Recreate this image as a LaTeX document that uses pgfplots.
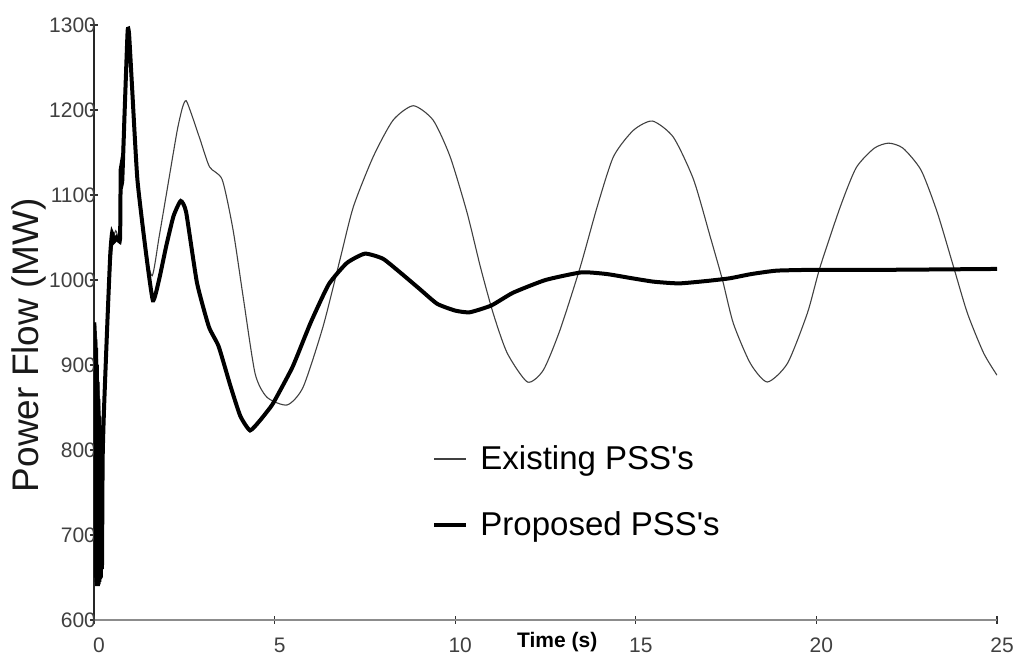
\documentclass[border=0pt]{standalone}
\usepackage{fontspec}
\setmainfont{Liberation Sans}
\usepackage{pgfplots}
\pgfplotsset{compat=1.18}
\begin{document}
\begin{tikzpicture}
\path[use as bounding box] (-47pt,-18pt) rectangle (463.5pt,310pt);
\begin{axis}[
  at={(0,0)}, anchor=south west,
  scale only axis, width=451.5pt, height=297.5pt,
  xmin=0, xmax=25, ymin=600, ymax=1300,
  axis x line=bottom, axis y line=left,
  axis line style={-},
  x axis line style={black!45, line width=0.6pt},
  y axis line style={black!85, line width=0.6pt},
  xtick={0,5,...,25}, ytick={600,700,...,1300},
  tick align=center, major tick length=4pt,
  tick style={black!80, line width=0.6pt},
  /pgf/number format/assume math mode=true,
  /pgf/number format/1000 sep={},
  ticklabel style={font=\fontsize{10.5}{12}\selectfont, text=black!75},
  yticklabel style={anchor=east, xshift=6.5pt},
  xticklabel style={anchor=center, yshift=-10.5pt, xshift=2.5pt},
  xlabel={Time (s)},
  xlabel style={at={(axis description cs:0.513,0)}, anchor=center, yshift=-11pt,
    font=\fontsize{10.5}{12}\selectfont\bfseries},
  ylabel={Power Flow (MW)},
  ylabel style={at={(axis description cs:-0.0725,0.462)}, anchor=center,
    font=\fontsize{18.5}{22}\selectfont, text=black!90},
  legend style={draw=none, fill=none, at={(axis cs:9.36,750.6)}, anchor=west,
    inner sep=0pt, row sep=15.5pt, column sep=4pt,
    font=\fontsize{16.5}{19}\selectfont},
  legend cell align=left,
  legend image code/.code={\draw[#1] (0pt,0pt) -- (16pt,0pt);},
]
\addplot[black!75, line width=0.55pt, smooth, tension=0.4] coordinates {
(0.05,950) (0.2,820) (0.28,851) (0.37,950) (0.5,1035) (0.6,1058) (0.75,1044)
(0.76,1130) (0.93,1290) (1.05,1230) (1.2,1120) (1.4,1040) (1.61,1005)
(1.8,1050) (2.0,1100) (2.3,1175) (2.45,1203) (2.55,1211) (2.7,1195)
(2.94,1165) (3.2,1133) (3.55,1118) (3.85,1059) (4.13,980) (4.46,890)
(4.79,862) (5.35,853) (5.79,874) (6.34,945) (6.81,1024) (7.18,1086)
(7.73,1145) (8.28,1188) (8.84,1205) (9.39,1188) (9.86,1145) (10.33,1079)
(10.7,1015) (11.05,961) (11.44,914) (12.0,880) (12.44,894) (12.9,941)
(13.46,1015) (13.93,1086) (14.38,1145) (14.93,1176) (15.46,1187) (16.04,1168)
(16.6,1118) (17.06,1051) (17.4,1000) (17.7,949) (18.17,902) (18.64,880)
(19.2,902) (19.75,961) (20.1,1015) (20.66,1086) (21.1,1132) (21.6,1155)
(22.0,1161) (22.4,1155) (22.9,1129) (23.35,1079) (23.8,1015) (24.18,961)
(24.63,914) (25,888)
};
\addlegendentry{Existing PSS\textquotesingle s}
\addplot[black, line width=2pt, smooth, tension=0.3] coordinates {
(0.00,950) (0.01,700) (0.02,940) (0.03,660) (0.04,930) (0.05,650)
(0.06,920) (0.07,645) (0.08,900) (0.09,640) (0.10,880) (0.11,640)
(0.12,860) (0.13,642) (0.14,840) (0.15,645) (0.16,820) (0.17,648)
(0.18,800) (0.19,650) (0.20,780) (0.22,660) (0.24,790) (0.28,851)
(0.37,950) (0.45,1030) (0.5,1055) (0.55,1045) (0.62,1050) (0.72,1048)
(0.74,1130) (0.78,1115) (0.85,1200) (0.93,1292) (0.97,1290) (1.05,1230)
(1.2,1119) (1.43,1035) (1.63,976) (1.8,1000) (2.0,1040) (2.2,1075)
(2.4,1093) (2.55,1080) (2.85,997) (3.18,945) (3.45,922) (3.78,875)
(4.05,840) (4.32,823) (4.6,835) (4.88,850) (5.0,858) (5.5,898) (6.0,950)
(6.5,995) (7.0,1020) (7.5,1031) (8.0,1025) (8.5,1008) (9.0,990) (9.5,972)
(10.0,964) (10.4,962) (11.0,970) (11.6,985) (12.5,1000) (13.5,1009)
(14.2,1007) (14.9,1002) (15.5,998) (16.2,996) (17.0,999) (17.6,1002)
(18.2,1007) (18.9,1011) (20,1012) (22,1012) (25,1013)
};
\addlegendentry{Proposed PSS\textquotesingle s}
\end{axis}
\end{tikzpicture}
\end{document}
